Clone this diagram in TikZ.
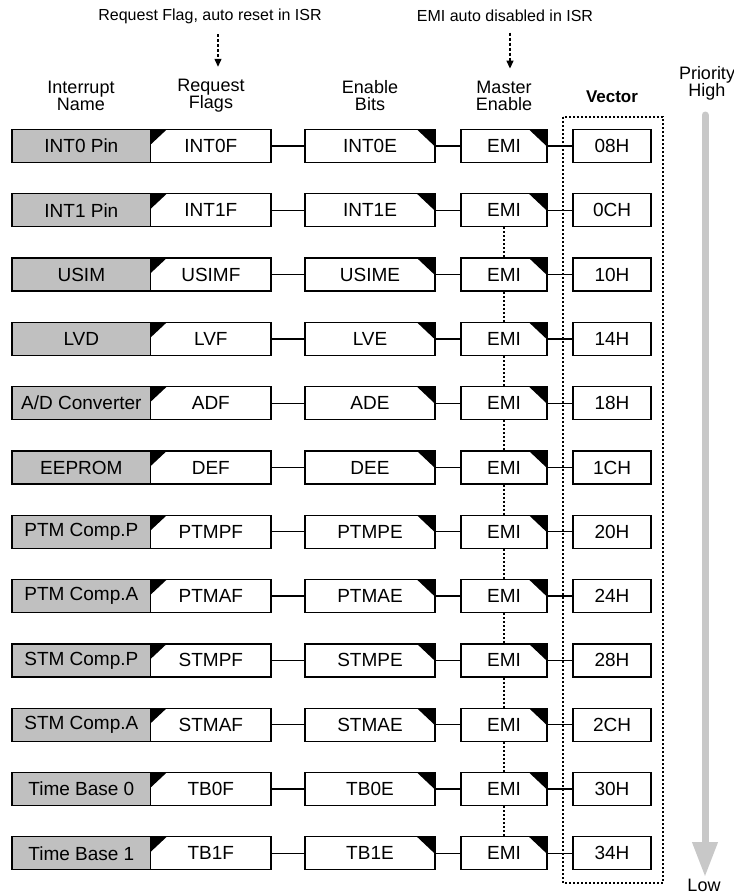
\documentclass[tikz,border=0pt]{standalone}
\usepackage{fontspec}
\setmainfont{Liberation Sans}
\usetikzlibrary{arrows.meta, positioning}
\definecolor{cname}{HTML}{C0C0C0}
\definecolor{cprio}{HTML}{C8C8C8}
\tikzset{
  every picture/.style={line width=1.3pt},
  cell/.style={draw, fill=white, minimum height=33pt, inner sep=0pt, font=\fontsize{19}{19}\selectfont},
  namebox/.style={cell, fill=cname, minimum width=138.7pt},
  flagbox/.style={cell, minimum width=120.3pt,
    path picture={\fill[black] (path picture bounding box.north west) -- ++(16pt,0pt) -- ++(-16pt,-15pt) -- cycle;}},
  enbox/.style={cell, minimum width=#1,
    path picture={\fill[black] (path picture bounding box.north east) -- ++(-18pt,0pt) -- ++(18pt,-17pt) -- cycle;}},
  vecbox/.style={cell, minimum width=78pt},
  head/.style={align=center, inner sep=0pt, font=\fontsize{18}{17}\selectfont},
  note/.style={inner sep=0pt, font=\fontsize{16}{16}\selectfont},
  hint/.style={dash pattern=on 3pt off 2pt, -{Triangle[length=8pt, width=7pt]}},
  dotline/.style={line width=1.2pt, dash pattern=on 2pt off 2pt},
  prio/.style={draw=cprio, line width=7pt, line cap=round, -{Triangle[length=35pt, width=24pt]}},
}
\begin{document}
\begin{tikzpicture}[x=1pt, y=-1pt]
  \useasboundingbox (0,0) rectangle (734,895);
  % notes on top
  \node[note] (nflag) at (210,16) {Request Flag, auto reset in ISR};
  \node[note] (nemi) at (505,16) {EMI auto disabled in ISR};
  % column headers
  \node[head] (hname) at (81,96) {Interrupt\\Name};
  \node[head] (hflag) at (211,96) {Request\\Flags};
  \node[head] (hen) at (370,96) {Enable\\Bits};
  \node[head] (hemi) at (504,96) {Master\\Enable};
  \node[head, font=\fontsize{17}{17}\selectfont\bfseries] (hvec) at (612,97) {Vector};
  \node[head] (hprio) at (707,83) {Priority\\High};
  \node[head] (low) at (704,885) {Low};
  \draw[hint] (nflag.south -| 218,0) ++(0,10) -- ([yshift=12pt]hflag.north -| 218,0);
  \draw[hint] (nemi.south -| 510,0) ++(0,10) -- ([yshift=12pt]hemi.north -| 510,0);
  % interrupt rows
  \foreach \nm/\fl/\en/\vc [count=\i] in {INT0 Pin/INT0F/INT0E/08H, INT1 Pin/INT1F/INT1E/0CH,
      USIM/USIMF/USIME/10H, LVD/LVF/LVE/14H, {A/D Converter}/ADF/ADE/18H, EEPROM/DEF/DEE/1CH,
      PTM Comp.P/PTMPF/PTMPE/20H, PTM Comp.A/PTMAF/PTMAE/24H, STM Comp.P/STMPF/STMPE/28H,
      STM Comp.A/STMAF/STMAE/2CH, Time Base 0/TB0F/TB0E/30H, Time Base 1/TB1F/TB1E/34H} {
    \pgfmathsetmacro\ry{146+64.3*(\i-1)}
    \node[namebox] (n\i) at (81.35,\ry) {\nm};
    \node[flagbox] (f\i) at (210.85,\ry) {\fl};
    \node[enbox=130pt] (e\i) at (370,\ry) {\en};
    \node[enbox=86pt] (m\i) at (504,\ry) {EMI};
    \node[vecbox] (v\i) at (612,\ry) {\vc};
    \draw (f\i) -- (e\i) (e\i) -- (m\i) (m\i) -- (v\i);
  }
  \foreach \i [evaluate=\i as \j using int(\i+1)] in {2,...,11}
    \draw[dotline] (m\i.south) -- (m\j.north);
  % vector frame
  \draw[dotline] (563,117) rectangle (663,883);
  % priority arrow
  \coordinate (ptop) at (705,115);
  \coordinate (pbot) at (705,877);
  \draw[prio] (ptop) -- (pbot);
\end{tikzpicture}
\end{document}
